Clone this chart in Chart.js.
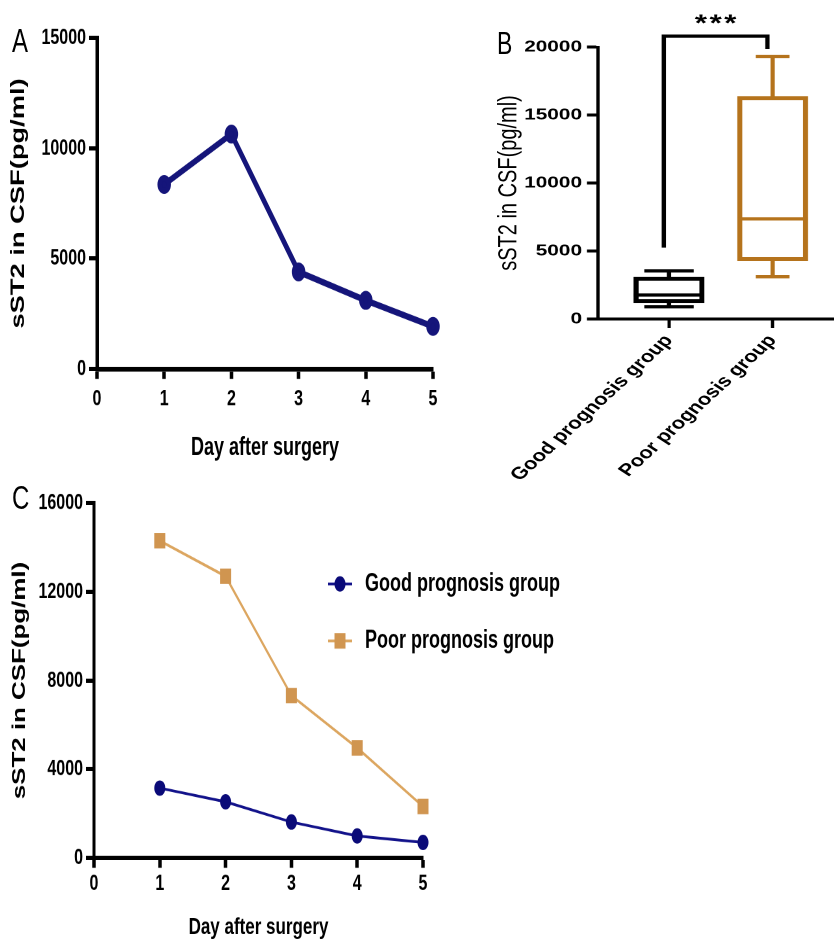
<!DOCTYPE html>
<html>
<head>
<meta charset="utf-8">
<script src="https://cdn.jsdelivr.net/npm/chart.js@4.4.0/dist/chart.umd.min.js"></script>
<style>
html, body { margin: 0; padding: 0; background: #fff; overflow: hidden; width: 834px; height: 942px; }
.panel { position: absolute; transform-origin: 0 0; }
.tag { position: absolute; font-family: "Liberation Sans", Arial, sans-serif; font-size: 24px; line-height: 1; color: #000; }
</style>
</head>
<body>
<div class="panel" style="left:0;top:0;width:460px;height:336px;transform:scaleY(1.4)">
  <canvas id="chartA"></canvas>
  <div class="tag" style="left:12px;top:17px">A</div>
</div>
<div class="panel" style="left:480px;top:0;width:292px;height:490px;transform:scaleX(1.3)">
  <canvas id="chartB"></canvas>
</div>
<div class="tag" style="left:497px;top:27px;font-size:23px;transform:scaleY(1.4);transform-origin:0 0">B</div>
<div class="panel" style="left:0;top:470px;width:600px;height:337px;transform:scaleY(1.4)">
  <canvas id="chartC"></canvas>
  <div class="tag" style="left:12px;top:8px">C</div>
</div>
<script>
// panel A: all patients by day
const days = [1, 2, 3, 4, 5];
const meanAll = [8360, 10640, 4400, 3110, 1930];

// panel B: box plot per group
const groups = ['Good prognosis group', 'Poor prognosis group'];
const boxMin = [900, 3110];
const boxQ1 = [1190, 4290];
const boxMedian = [1765, 7360];
const boxQ3 = [3080, 16360];
const boxMax = [3540, 19300];
const boxColors = ['#000000', '#b5731c'];
const sigBracket = [5250, 20800, 19850]; // left foot, top, right foot
const sigLabel = '***';

// panel C: groups by day
const goodByDay = [3150, 2530, 1620, 990, 700];
const poorByDay = [14300, 12700, 7320, 4960, 2320];

const FONT = "'Liberation Sans', Arial, sans-serif";
Chart.defaults.font.family = FONT;
Chart.defaults.color = '#000';
Chart.defaults.animation = false;

const pts = (xs, ys) => xs.map((x, i) => ({ x: x, y: ys[i] }));

function lineAxes(yMax, yStep, yWidth, xHeight, yTitle, yTitlePad, xTitle, xTitlePad, xTickPad) {
  return {
    x: {
      type: 'linear', min: 0, max: 5,
      afterFit: s => { s.height = xHeight; },
      border: { display: true, color: '#000', width: 3.4 },
      grid: { display: true, drawOnChartArea: false, drawTicks: true, tickLength: 7, tickColor: '#000', tickWidth: 3.5 },
      ticks: { stepSize: 1, padding: xTickPad, font: { size: 16, weight: 'bold' }, callback: v => String(v) },
      title: { display: true, text: xTitle, font: { size: 18, weight: 'bold' }, padding: { top: 0, bottom: xTitlePad } }
    },
    y: {
      min: 0, max: yMax,
      afterFit: s => { s.width = yWidth; },
      border: { display: true, color: '#000', width: 3.5 },
      grid: { display: true, drawOnChartArea: false, drawTicks: true, tickLength: 8, tickColor: '#000', tickWidth: 3 },
      ticks: { stepSize: yStep, padding: 3, font: { size: 16, weight: 'bold' }, callback: v => String(v) },
      title: { display: true, text: yTitle, font: { size: 19.5, weight: 'bold' }, padding: { top: yTitlePad, bottom: 0 } }
    }
  };
}

new Chart(document.getElementById('chartA'), {
  type: 'line',
  data: {
    datasets: [{
      data: pts(days, meanAll),
      borderColor: '#15157a', borderWidth: 4.5,
      pointRadius: 4.5, pointBackgroundColor: '#15157a', pointBorderColor: '#15157a',
      tension: 0, clip: false
    }]
  },
  options: {
    responsive: true, maintainAspectRatio: false, devicePixelRatio: 2,
    layout: { padding: { top: 27, right: 27, left: 0, bottom: 0 } },
    plugins: { legend: { display: false }, tooltip: { enabled: false } },
    scales: lineAxes(15000, 5000, 97, 72.4, 'sST2 in CSF(pg/ml)', 7, 'Day after surgery', 5, 5)
  }
});

const boxWhiskers = {
  id: 'boxWhiskers',
  afterDatasetsDraw(chart) {
    const { ctx, scales: { x, y } } = chart;
    const bars = chart.getDatasetMeta(0).data;
    const caps = [19, 13];
    ctx.save();
    ctx.lineWidth = 3.3;
    groups.forEach((g, i) => {
      const cx = x.getPixelForValue(i + 1);
      const half = bars[i].width / 2;
      const yMax = y.getPixelForValue(boxMax[i]);
      const yMin = y.getPixelForValue(boxMin[i]);
      ctx.strokeStyle = boxColors[i];
      ctx.beginPath();
      ctx.moveTo(cx, y.getPixelForValue(boxQ3[i])); ctx.lineTo(cx, yMax);
      ctx.moveTo(cx - caps[i], yMax); ctx.lineTo(cx + caps[i], yMax);
      ctx.moveTo(cx, y.getPixelForValue(boxQ1[i])); ctx.lineTo(cx, yMin);
      ctx.moveTo(cx - caps[i], yMin); ctx.lineTo(cx + caps[i], yMin);
      const ym = y.getPixelForValue(boxMedian[i]);
      ctx.moveTo(cx - half, ym); ctx.lineTo(cx + half, ym);
      ctx.stroke();
    });
    // significance bracket
    const xl = x.getPixelForValue(1) - 4, xr = x.getPixelForValue(2) - 4;
    const yt = y.getPixelForValue(sigBracket[1]);
    ctx.strokeStyle = '#000';
    ctx.lineJoin = 'miter';
    ctx.beginPath();
    ctx.moveTo(xl, y.getPixelForValue(sigBracket[0]));
    ctx.lineTo(xl, yt); ctx.lineTo(xr, yt);
    ctx.lineTo(xr, y.getPixelForValue(sigBracket[2]));
    ctx.stroke();
    ctx.fillStyle = '#000';
    ctx.font = 'bold 24px ' + FONT;
    ctx.letterSpacing = '2px';
    ctx.textAlign = 'center';
    ctx.textBaseline = 'alphabetic';
    ctx.fillText(sigLabel, (xl + xr) / 2 + 1, yt - 5);
    ctx.restore();
  }
};

new Chart(document.getElementById('chartB'), {
  type: 'bar',
  data: {
    datasets: [{
      data: groups.map((g, i) => ({ x: i + 1, y: [boxQ1[i], boxQ3[i]] })),
      backgroundColor: 'rgba(255,255,255,0)',
      borderColor: boxColors, borderWidth: 3.3, borderSkipped: false,
      barThickness: 54
    }]
  },
  options: {
    responsive: true, maintainAspectRatio: false, devicePixelRatio: 2,
    layout: { padding: { top: 47, right: 12.3, left: 0, bottom: 0 } },
    plugins: { legend: { display: false }, tooltip: { enabled: false } },
    scales: {
      x: {
        type: 'linear', min: 0.315, max: 2.685, offset: false,
        afterBuildTicks: s => { s.ticks = groups.map((g, i) => ({ value: i + 1 })); },
        afterFit: s => { s.height = 171; },
        border: { display: true, color: '#000', width: 3 },
        grid: { display: true, offset: false, drawOnChartArea: false, drawTicks: true, tickLength: 9, tickColor: '#000', tickWidth: 2.5 },
        ticks: { autoSkip: false, minRotation: 50, maxRotation: 50, padding: 3, font: { size: 17, weight: 'bold' }, callback: v => groups[v - 1] }
      },
      y: {
        min: 0, max: 20000,
        afterFit: s => { s.width = 83.1; },
        border: { display: true, color: '#000', width: 2.5 },
        grid: { display: true, drawOnChartArea: false, drawTicks: true, tickLength: 8.5, tickColor: '#000', tickWidth: 3 },
        ticks: { stepSize: 5000, padding: 3.8, font: { size: 16, weight: 'bold' }, callback: v => String(v) },
        title: { display: true, text: 'sST2 in CSF(pg/ml)', font: { size: 20, weight: 'normal' }, padding: { top: 3, bottom: 0 } }
      }
    }
  },
  plugins: [boxWhiskers]
});

const sideLegend = {
  id: 'sideLegend',
  afterDraw(chart) {
    const ctx = chart.ctx;
    const mx = 340, tx = 365, rows = [81.4, 122.1];
    ctx.save();
    chart.data.datasets.forEach((ds, i) => {
      const y = rows[i];
      ctx.strokeStyle = ds.borderColor;
      ctx.lineWidth = ds.borderWidth;
      ctx.beginPath();
      ctx.moveTo(mx - 12, y); ctx.lineTo(mx + 12, y);
      ctx.stroke();
      ctx.fillStyle = ds.pointBackgroundColor;
      ctx.strokeStyle = ds.pointBackgroundColor;
      Chart.helpers.drawPoint(ctx, { pointStyle: ds.pointStyle, radius: ds.pointRadius, rotation: 0, borderWidth: 0 }, mx, y);
      ctx.fillStyle = '#000';
      ctx.font = 'bold 18px ' + FONT;
      ctx.textAlign = 'left';
      ctx.textBaseline = 'middle';
      ctx.fillText(ds.label, tx, y);
    });
    ctx.restore();
  }
};

const axesC = lineAxes(16000, 4000, 94, 337 - 277.1, 'sST2 in CSF(pg/ml)', 9, 'Day after surgery', 0, 2);
axesC.y.title.font.size = 18.5;
axesC.x.title.font.size = 17;
axesC.x.border.width = 3;
axesC.y.border.width = 3;

new Chart(document.getElementById('chartC'), {
  type: 'line',
  data: {
    datasets: [{
      label: groups[0],
      data: pts(days, goodByDay),
      borderColor: '#12128a', borderWidth: 2,
      pointStyle: 'circle', pointRadius: 5.5, pointBorderWidth: 0,
      pointBackgroundColor: '#0a0a78', pointBorderColor: '#0a0a78',
      tension: 0, clip: false
    }, {
      label: groups[1],
      data: pts(days, poorByDay),
      borderColor: '#dca660', borderWidth: 2,
      pointStyle: 'rect', pointRadius: 7.8, pointBorderWidth: 0,
      pointBackgroundColor: '#d09550', pointBorderColor: '#d09550',
      tension: 0, clip: false
    }]
  },
  options: {
    responsive: true, maintainAspectRatio: false, devicePixelRatio: 2,
    layout: { padding: { top: 23.6, right: 177, left: 0, bottom: 0 } },
    plugins: { legend: { display: false }, tooltip: { enabled: false } },
    scales: axesC
  },
  plugins: [sideLegend]
});
</script>
</body>
</html>
